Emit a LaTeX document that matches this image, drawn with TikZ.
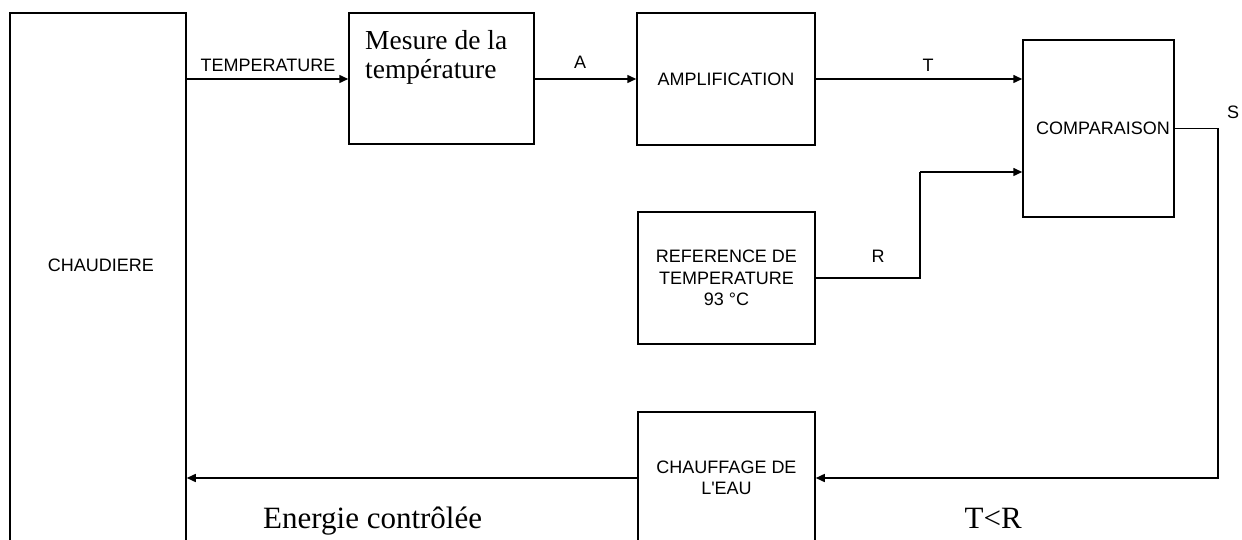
\documentclass[tikz,border=0pt]{standalone}
\usepackage{fontspec}
\setmainfont{Liberation Serif}
\newfontfamily\arialf{Liberation Sans}
\usetikzlibrary{arrows.meta}
\begin{document}
\begin{tikzpicture}[x=1pt,y=-1pt,
  box/.style={draw,line width=1.5pt,rectangle,inner sep=0pt},
  lbl/.style={font=\arialf\fontsize{18}{21.5}\selectfont,inner sep=0pt},
  big/.style={font=\fontsize{31}{34}\selectfont,inner sep=0pt},
  arr/.style={line width=1.5pt,-{Triangle[length=9pt,width=8pt]}},
  ln/.style={line width=1.5pt}]
\useasboundingbox (0,0) rectangle (1242,540);
% boxes
\node[box,minimum width=176pt,minimum height=532pt] (chaud) at (98,279) {};
\node[lbl] (chaudlbl) at (101,265) {CHAUDIERE};
\node[box,minimum width=185pt,minimum height=131pt] (mesure) at (441.5,78.5) {};
\node[inner sep=0pt,anchor=north west,align=left,font=\fontsize{27.5}{29}\selectfont] (mesurelbl) at (365,30) {Mesure de la\\température};
\node[box,lbl,minimum width=178pt,minimum height=132pt] (ampl) at (726,79) {AMPLIFICATION};
\node[box,minimum width=151pt,minimum height=177pt] (comp) at (1098.5,128.5) {};
\node[lbl] (complbl) at (1103,128.5) {COMPARAISON};
\node[box,lbl,align=center,minimum width=177pt,minimum height=132pt] (ref) at (726.5,278) {REFERENCE DE\\TEMPERATURE\\93 °C};
\node[box,lbl,align=center,minimum width=177pt,minimum height=132pt] (chauf) at (726.5,478) {CHAUFFAGE DE\\L'EAU};
% connector labels
\node[lbl] (ltemp) at (268,65) {TEMPERATURE};
\node[lbl] (la) at (580,62) {A};
\node[lbl] (lt) at (928,65) {T};
\node[lbl] (lr) at (878,256) {R};
\node[lbl] (ls) at (1233,112) {S};
\node[big,anchor=base west] (lenergie) at (263,528) {Energie contrôlée};
\node[big,anchor=base east] (ltr) at (1022,528) {T<R};
% connectors
\coordinate (rc) at (920,172);
\coordinate (sc) at (1218,128.5);
\draw[arr] (chaud.east |- 0,79) -- (mesure.west |- 0,79);
\draw[arr] (mesure.east |- 0,79) -- (ampl.west |- 0,79);
\draw[arr] (ampl.east |- 0,79) -- (comp.west |- 0,79);
\draw[ln] (ref.east) -| (rc);
\draw[arr] (rc) -- (comp.west |- rc);
\draw[ln] (comp.east) -- (sc);
\draw[arr] (sc) |- (chauf.east);
\draw[arr] (chauf.west) -- (chaud.east |- chauf.west);
\end{tikzpicture}
\end{document}
